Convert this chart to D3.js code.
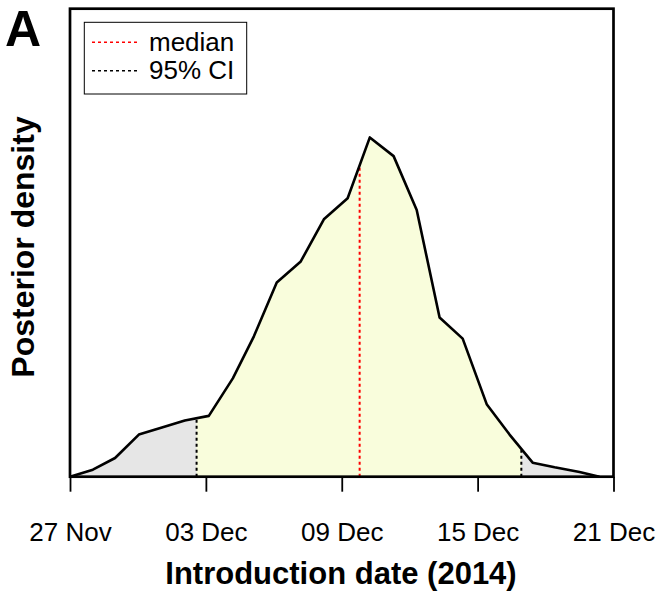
<!DOCTYPE html>
<html>
<head>
<meta charset="utf-8">
<script src="https://cdn.jsdelivr.net/npm/d3@7"></script>
<style>
    body { margin: 0; background: white; }
    svg { font-family: "Liberation Sans", Arial, sans-serif; }
</style>
</head>
<body>
<div id="chart"></div>
<script>
// days after 27 Nov 2014 and posterior density
const dayOffset = [0, 1.01, 1.99, 3.04, 4.06, 5.07, 6.13, 7.19, 8.12, 9.13, 10.19, 11.21,
    12.26, 13.24, 14.29, 15.31, 16.32, 17.34, 18.40, 19.41, 20.43, 21.40, 22.50, 23.38];
const density = [0.000, 0.003, 0.008, 0.018, 0.021, 0.024, 0.026, 0.042, 0.060, 0.083, 0.092, 0.110,
    0.119, 0.145, 0.137, 0.114, 0.068, 0.059, 0.031, 0.018, 0.006, 0.004, 0.002, 0.000];

const medianDay = 12.79;
const ciDays = [5.59, 19.93];

const tickDays = [0, 6, 12, 18, 24];
const tickLabels = ['27 Nov', '03 Dec', '09 Dec', '15 Dec', '21 Dec'];

const legendItems = [
    {label: 'median', color: 'red'},
    {label: '95% CI', color: 'black'}
];

const width = 659, height = 593;
const plot = {left: 70, right: 613.5, top: 8.7, bottom: 476.7};

const svg = d3.select('#chart')
    .append('svg')
    .attr('width', width)
    .attr('height', height);

const x = d3.scaleLinear()
    .domain([0, 24])
    .range([plot.left, plot.right]);
const y = d3.scaleLinear()
    .domain([0, 0.2])
    .range([plot.bottom, plot.top]);

const points = dayOffset.map((d, i) => ({day: d, dens: density[i]}));

// density at any day, by straight interpolation between the points
function densAt(day) {
    const i = d3.bisector(d => d.day).right(points, day);
    const a = points[i - 1], b = points[i];
    const t = (day - a.day) / (b.day - a.day);
    return a.dens + t * (b.dens - a.dens);
}

const area = d3.area()
    .x(d => x(d.day))
    .y0(y(0))
    .y1(d => y(d.dens));

// clip region for inside the CI
const defs = svg.append('defs');
defs.append('clipPath').attr('id', 'clip-in')
    .append('rect')
    .attr('x', x(ciDays[0])).attr('y', 0)
    .attr('width', x(ciDays[1]) - x(ciDays[0])).attr('height', height);

svg.append('path')
    .datum(points)
    .attr('d', area)
    .attr('fill', '#e6e6e6');
svg.append('path')
    .datum(points)
    .attr('d', area)
    .attr('fill', '#f9fddc')
    .attr('clip-path', 'url(#clip-in)');

// CI and median lines
ciDays.forEach(d => {
    svg.append('line')
        .attr('x1', x(d)).attr('x2', x(d))
        .attr('y1', y(0)).attr('y2', y(densAt(d)))
        .attr('stroke', 'black')
        .attr('stroke-width', 2)
        .attr('stroke-dasharray', '3,3');
});
svg.append('line')
    .attr('x1', x(medianDay)).attr('x2', x(medianDay))
    .attr('y1', y(0)).attr('y2', y(densAt(medianDay)))
    .attr('stroke', 'red')
    .attr('stroke-width', 2)
    .attr('stroke-dasharray', '3,3');

svg.append('path')
    .datum(points)
    .attr('d', d3.line().x(d => x(d.day)).y(d => y(d.dens)))
    .attr('fill', 'none')
    .attr('stroke', 'black')
    .attr('stroke-width', 2.6)
    .attr('stroke-linejoin', 'round');

// x axis
const xAxis = svg.append('g')
    .attr('transform', `translate(0, ${plot.bottom})`)
    .call(d3.axisBottom(x)
        .tickValues(tickDays)
        .tickFormat((d, i) => tickLabels[i])
        .tickSize(15)
        .tickPadding(31));
xAxis.select('.domain').remove();
xAxis.selectAll('line').attr('stroke-width', 1.8);
xAxis.selectAll('text')
    .attr('font-size', 26)
    .attr('font-family', '"Liberation Sans", Arial, sans-serif')
    .attr('fill', 'black');

// frame
svg.append('rect')
    .attr('x', plot.left).attr('y', plot.top)
    .attr('width', plot.right - plot.left)
    .attr('height', plot.bottom - plot.top)
    .attr('fill', 'none')
    .attr('stroke', 'black')
    .attr('stroke-width', 2.7);

// axis titles
svg.append('text')
    .attr('x', 341)
    .attr('y', 584)
    .attr('text-anchor', 'middle')
    .attr('font-size', 31)
    .attr('font-weight', 'bold')
    .text('Introduction date (2014)');
svg.append('text')
    .attr('transform', `translate(34, 247) rotate(-90)`)
    .attr('text-anchor', 'middle')
    .attr('font-size', 32)
    .attr('font-weight', 'bold')
    .text('Posterior density');

// panel letter
svg.append('text')
    .attr('x', 5)
    .attr('y', 45.7)
    .attr('font-size', 50)
    .attr('font-weight', 'bold')
    .text('A');

// legend
const legend = svg.append('g');
legend.append('rect')
    .attr('x', 84.3).attr('y', 22.3)
    .attr('width', 162.4).attr('height', 71.7)
    .attr('fill', 'white')
    .attr('stroke', 'black')
    .attr('stroke-width', 1);
legendItems.forEach((d, i) => {
    const ly = 42.3 + i * 28.4;
    legend.append('line')
        .attr('x1', 92).attr('x2', 137)
        .attr('y1', ly).attr('y2', ly)
        .attr('stroke', d.color)
        .attr('stroke-width', 1.6)
        .attr('stroke-dasharray', '3,3');
    legend.append('text')
        .attr('x', 149)
        .attr('y', ly + 8.5)
        .attr('font-size', 26)
        .text(d.label);
});
</script>
</body>
</html>
